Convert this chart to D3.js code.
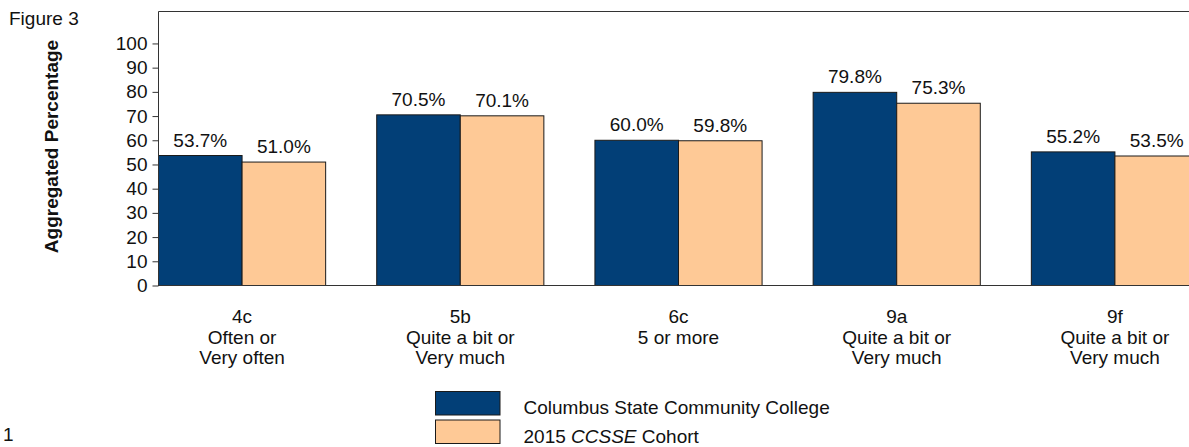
<!DOCTYPE html>
<html>
<head>
<meta charset="utf-8">
<script src="https://cdn.jsdelivr.net/npm/d3@7/dist/d3.min.js"></script>
<style>
  html, body { margin: 0; padding: 0; background: #fff; }
  svg { display: block; font-family: "Liberation Sans", Arial, sans-serif; }
</style>
</head>
<body>
<svg id="chart" width="1189" height="447"></svg>
<script>
const categories = ["4c", "5b", "6c", "9a", "9f"];
const categoryLines = [
  ["4c", "Often or", "Very often"],
  ["5b", "Quite a bit or", "Very much"],
  ["6c", "5 or more"],
  ["9a", "Quite a bit or", "Very much"],
  ["9f", "Quite a bit or", "Very much"]
];
const seriesNames = ["Columbus State Community College", "2015 CCSSE Cohort"];
const collegeValues = [53.7, 70.5, 60.0, 79.8, 55.2];
const cohortValues = [51.0, 70.1, 59.8, 75.3, 53.5];
const yTicks = [0, 10, 20, 30, 40, 50, 60, 70, 80, 90, 100];
const colors = ["#023f77", "#fec996"];

const FS = "19px";
const svg = d3.select("#chart");
const plotLeft = 158.5, plotBottom = 285.5, plotTop = 11.5;

const y = d3.scaleLinear().domain([0, 113.2]).range([plotBottom, plotTop]);
const x0 = d3.scaleBand().domain(categories)
  .range([plotLeft, plotLeft + 4 * 218.25 + 167]).paddingInner(0.234).paddingOuter(0);
const x1 = d3.scaleBand().domain([0, 1]).range([0, x0.bandwidth()]);

const data = categories.map((c, i) => ({ cat: c, vals: [collegeValues[i], cohortValues[i]] }));

// frame: top line
svg.append("line").attr("x1", plotLeft).attr("x2", 1189).attr("y1", plotTop).attr("y2", plotTop)
  .attr("stroke", "#333").attr("stroke-width", 1);

// bars
const g = svg.selectAll("g.grp").data(data).enter().append("g")
  .attr("transform", d => `translate(${x0(d.cat)},0)`);
g.selectAll("rect").data(d => d.vals.map((v, k) => ({ v, k }))).enter().append("rect")
  .attr("x", d => x1(d.k))
  .attr("width", x1.bandwidth())
  .attr("y", d => y(d.v))
  .attr("height", d => y(0) - y(d.v))
  .attr("fill", d => colors[d.k])
  .attr("stroke", "#1a1a1a").attr("stroke-width", 1);
g.selectAll("text.val").data(d => d.vals.map((v, k) => ({ v, k }))).enter().append("text")
  .attr("x", d => x1(d.k) + x1.bandwidth() / 2)
  .attr("y", d => y(d.v) - 9)
  .attr("text-anchor", "middle")
  .attr("font-size", FS).attr("fill", "#111")
  .text(d => d.v.toFixed(1) + "%");

// y axis
const yAxis = d3.axisLeft(y).tickValues(yTicks).tickSize(6).tickSizeOuter(0).tickPadding(5);
const ya = svg.append("g").attr("transform", `translate(${plotLeft},0)`).call(yAxis);
ya.select(".domain").attr("stroke", "#333").attr("d", `M0,${plotBottom}V${plotTop}`);
ya.selectAll(".tick line").attr("stroke", "#333");
ya.selectAll(".tick text").attr("font-size", FS).attr("fill", "#111")
  .attr("font-family", "Liberation Sans, Arial, sans-serif");

// x baseline
svg.append("line").attr("x1", plotLeft).attr("x2", 1189).attr("y1", plotBottom).attr("y2", plotBottom)
  .attr("stroke", "#333").attr("stroke-width", 1);

// category labels
categories.forEach((c, i) => {
  const cx = x0(c) + x0.bandwidth() / 2;
  const t = svg.append("text")
    .attr("x", cx).attr("y", 323.3)
    .attr("text-anchor", "middle").attr("font-size", FS).attr("fill", "#111");
  categoryLines[i].forEach((ln, j) => {
    t.append("tspan").attr("x", cx).attr("dy", j === 0 ? 0 : 20.2).text(ln);
  });
});

// y title
svg.append("text")
  .attr("transform", "translate(58,146.5) rotate(-90)")
  .attr("text-anchor", "middle").attr("font-size", FS).attr("font-weight", "bold")
  .attr("fill", "#111").text("Aggregated Percentage");

// Figure label
svg.append("text").attr("x", 9).attr("y", 25).attr("font-size", FS).attr("fill", "#111").text("Figure 3");
svg.append("text").attr("x", 3).attr("y", 441).attr("font-size", FS).attr("fill", "#111").text("1");

// legend
const legY = [391.5, 420];
seriesNames.forEach((s, k) => {
  svg.append("rect").attr("x", 435.5).attr("y", legY[k]).attr("width", 64.5).attr("height", 23.5)
    .attr("fill", colors[k]).attr("stroke", "#1a1a1a").attr("stroke-width", 1);
});
svg.append("text").attr("x", 523.5).attr("y", 414).attr("font-size", FS).attr("fill", "#111")
  .text(seriesNames[0]);
const t2 = svg.append("text").attr("x", 523.5).attr("y", 443).attr("font-size", FS).attr("fill", "#111");
t2.append("tspan").text("2015 ");
t2.append("tspan").attr("font-style", "italic").text("CCSSE");
t2.append("tspan").text(" Cohort");
</script>
</body>
</html>
